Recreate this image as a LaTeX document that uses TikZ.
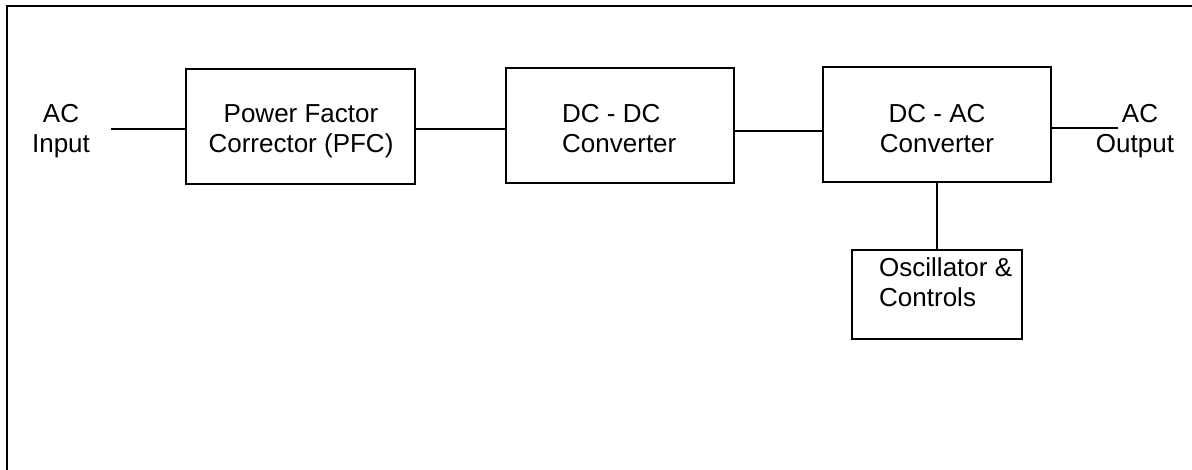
\documentclass[tikz,border=0pt]{standalone}
\usepackage{fontspec}
\setmainfont{Liberation Sans}
\begin{document}
\begin{tikzpicture}[x=1pt,y=-1pt,
  box/.style={draw, line width=1.8pt, inner sep=0pt},
  txt/.style={inner sep=0pt, font=\fontsize{26}{30}\selectfont, align=center},
  conn/.style={line width=1.5pt}]
\useasboundingbox (0,0) rectangle (1192,470);
\fill[white] (0,0) rectangle (1192,470);
\begin{scope}
\clip (0,0) rectangle (1192,470);
\draw[line width=2.4pt] (7,6) rectangle (1250,520);
\end{scope}
% boxes
\node[box, minimum width=229pt, minimum height=115pt] (pfc) at (300.5,126.5) {};
\node[box, minimum width=228pt, minimum height=115pt] (dcdc) at (620,125.5) {};
\node[box, minimum width=228pt, minimum height=115pt] (dcac) at (937,124.5) {};
\node[box, minimum width=170pt, minimum height=89pt] (osc) at (937,294.5) {};
% texts
\node[txt, anchor=north] (acin) at (61,104.5) {AC\\Input};
\node[txt, anchor=north] (acout) at (1135,104.5) {\hspace*{10pt}AC\\Output};
\node[txt, anchor=north] (pfct) at (301,104.5) {Power Factor\\Corrector (PFC)};
\node[txt, anchor=north west, align=left] (dcdct) at (562,104.5) {DC - DC\\Converter};
\node[txt, anchor=north] (dcact) at (937,104.5) {DC - AC\\Converter};
\node[txt, anchor=north west, align=left] (osct) at (879,257.5) {Oscillator \&\\Controls};
% connectors
\coordinate (in) at (111,129);
\coordinate (out) at (1118,128);
\coordinate (ya) at (0,129);
\coordinate (yb) at (0,131);
\draw[conn] (in) -- (in -| pfc.west);
\draw[conn] (pfc.east |- ya) -- (dcdc.west |- ya);
\draw[conn] (dcdc.east |- yb) -- (dcac.west |- yb);
\draw[conn] (dcac.east |- out) -- (out);
\draw[conn] (dcac.south) -- (osc.north);
\end{tikzpicture}
\end{document}
